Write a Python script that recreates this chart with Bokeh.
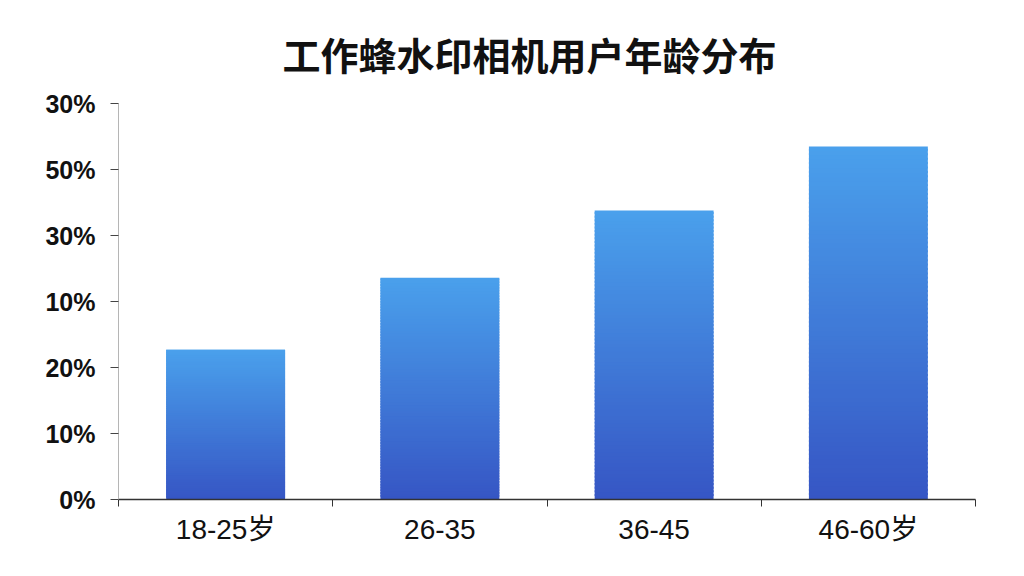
from bokeh.plotting import figure, ColumnDataSource
from bokeh.models import Range1d, FixedTicker
from bokeh.embed import file_html
from bokeh.resources import INLINE

# data (y in percent, one tick = 10)
categories = ["18-25岁", "26-35", "36-45", "46-60岁"]
shares = [22.7, 33.6, 43.8, 53.5]
y_ticks = [0, 10, 20, 30, 40, 50, 60]
y_tick_labels = ["0%", "10%", "20%", "10%", "30%", "50%", "30%"]

top_color = (74, 160, 236)
bottom_color = (54, 86, 196)
n_steps = 80
bar_width = 0.555

# gradient slices for each bar, each one overlapping the next a little
left, right, bottom, top, colors = [], [], [], [], []
for i, v in enumerate(shares):
    for k in range(n_steps):
        t = k / (n_steps - 1)
        r = round(bottom_color[0] + (top_color[0] - bottom_color[0]) * t)
        g = round(bottom_color[1] + (top_color[1] - bottom_color[1]) * t)
        b = round(bottom_color[2] + (top_color[2] - bottom_color[2]) * t)
        left.append(i + 0.5 - bar_width / 2)
        right.append(i + 0.5 + bar_width / 2)
        bottom.append(v * k / n_steps)
        top.append(min(v, v * (k + 1) / n_steps + 0.3))
        colors.append("#%02x%02x%02x" % (r, g, b))

src = ColumnDataSource(dict(left=left, right=right, bottom=bottom, top=top, color=colors))

p = figure(width=1008, height=560, output_backend="svg", toolbar_location=None,
           x_range=Range1d(0, len(categories)), y_range=Range1d(0, 60),
           title="工作蜂水印相机用户年龄分布",
           min_border_left=118, min_border_right=33, min_border_top=103, min_border_bottom=61)
p.quad(left="left", right="right", bottom="bottom", top="top", fill_color="color",
       line_color=None, source=src)

p.title.text_font = "Noto Sans CJK SC"
p.title.text_font_size = "38px"
p.title.text_font_style = "bold"
p.title.text_color = "#111111"
p.title.align = "left"
p.title.offset = 164
p.title.standoff = 45

p.background_fill_color = "white"
p.border_fill_color = "white"
p.outline_line_color = None
p.xgrid.grid_line_color = None
p.ygrid.grid_line_color = None

xa = p.xaxis[0]
xa.ticker = FixedTicker(ticks=[i + 0.5 for i in range(len(categories))],
                        minor_ticks=list(range(len(categories) + 1)))
xa.major_label_overrides = {i + 0.5: c for i, c in enumerate(categories)}
xa.major_tick_line_color = None
xa.minor_tick_line_color = "#333333"
xa.minor_tick_out = 7
xa.minor_tick_in = 0
xa.axis_line_color = "#333333"
xa.axis_line_width = 1.5
xa.major_label_text_font = "Liberation Sans, Noto Sans CJK SC"
xa.major_label_text_font_size = "28px"
xa.major_label_text_color = "#111111"
xa.major_label_standoff = 7

ya = p.yaxis[0]
ya.ticker = FixedTicker(ticks=y_ticks, minor_ticks=[])
ya.major_label_overrides = {t: l for t, l in zip(y_ticks, y_tick_labels)}
ya.axis_line_color = "#b5b5b5"
ya.axis_line_width = 1
ya.major_tick_line_color = "#444444"
ya.major_tick_out = 8
ya.major_tick_in = 0
ya.major_label_text_font = "Liberation Sans"
ya.major_label_text_font_size = "25px"
ya.major_label_text_font_style = "bold"
ya.major_label_text_color = "#111111"
ya.major_label_standoff = 15

open("out.html", "w").write(file_html(p, INLINE))
